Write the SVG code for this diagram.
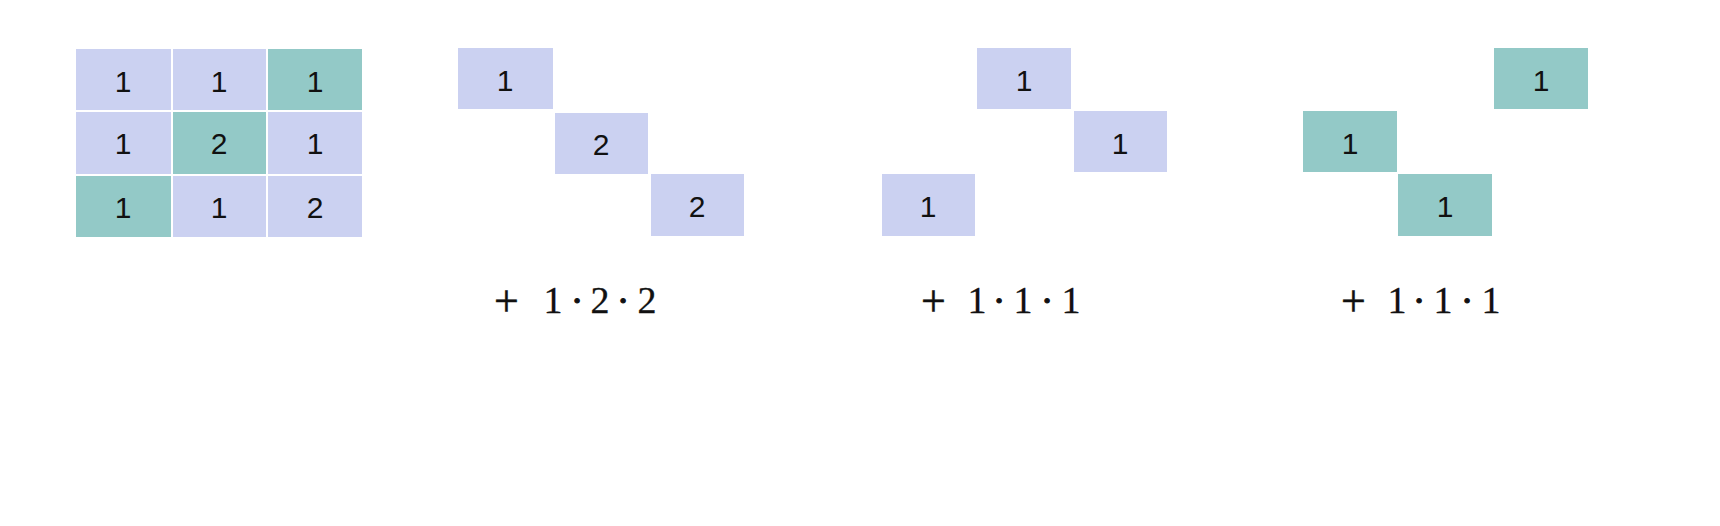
<svg xmlns="http://www.w3.org/2000/svg" width="1720" height="526" viewBox="0 0 1720 526">
<style>
.lav{fill:#CBD1F1}
.teal{fill:#93C9C7}
.n{font-family:"Liberation Sans",Arial,sans-serif;font-size:30px;fill:#111;text-anchor:middle}
.m{font-family:"Liberation Serif","Times New Roman",serif;font-size:38px;fill:#111;stroke:#111;stroke-width:0.3;text-anchor:middle}
.p{font-size:44px;stroke-width:0.5}
.d{stroke-width:1.2}
</style>
<rect width="1720" height="526" fill="#fff"/>
<g id="matrix">
<g id="m11"><rect class="lav" x="76" y="49" width="95" height="61"/><text class="n" x="123" y="92">1</text></g>
<g id="m12"><rect class="lav" x="173" y="49" width="93" height="61"/><text class="n" x="219" y="92">1</text></g>
<g id="m13"><rect class="teal" x="268" y="49" width="94" height="61"/><text class="n" x="315" y="92">1</text></g>
<g id="m21"><rect class="lav" x="76" y="112" width="95" height="62"/><text class="n" x="123" y="154">1</text></g>
<g id="m22"><rect class="teal" x="173" y="112" width="93" height="62"/><text class="n" x="219" y="154">2</text></g>
<g id="m23"><rect class="lav" x="268" y="112" width="94" height="62"/><text class="n" x="315" y="154">1</text></g>
<g id="m31"><rect class="teal" x="76" y="176" width="95" height="61"/><text class="n" x="123" y="218">1</text></g>
<g id="m32"><rect class="lav" x="173" y="176" width="93" height="61"/><text class="n" x="219" y="218">1</text></g>
<g id="m33"><rect class="lav" x="268" y="176" width="94" height="61"/><text class="n" x="315" y="218">2</text></g>
</g>
<g id="term1">
<g id="t1a"><rect class="lav" x="458" y="48" width="95" height="61"/><text class="n" x="505" y="91">1</text></g>
<g id="t1b"><rect class="lav" x="555" y="113" width="93" height="61"/><text class="n" x="601" y="155">2</text></g>
<g id="t1c"><rect class="lav" x="651" y="174" width="93" height="62"/><text class="n" x="697" y="217">2</text></g>
<g id="t1eq">
<text class="m p" x="506.5" y="316">+</text>
<text class="m" x="553" y="313">1</text>
<text class="m d" x="577" y="313">·</text>
<text class="m" x="600" y="313">2</text>
<text class="m d" x="623" y="313">·</text>
<text class="m" x="647" y="313">2</text>
</g>
</g>
<g id="term2">
<g id="t2a"><rect class="lav" x="977" y="48" width="94" height="61"/><text class="n" x="1024" y="91">1</text></g>
<g id="t2b"><rect class="lav" x="1074" y="111" width="93" height="61"/><text class="n" x="1120" y="154">1</text></g>
<g id="t2c"><rect class="lav" x="882" y="174" width="93" height="62"/><text class="n" x="928" y="217">1</text></g>
<g id="t2eq">
<text class="m p" x="933.5" y="316">+</text>
<text class="m" x="977" y="313">1</text>
<text class="m d" x="999" y="313">·</text>
<text class="m" x="1023" y="313">1</text>
<text class="m d" x="1047" y="313">·</text>
<text class="m" x="1071" y="313">1</text>
</g>
</g>
<g id="term3">
<g id="t3a"><rect class="teal" x="1494" y="48" width="94" height="61"/><text class="n" x="1541" y="91">1</text></g>
<g id="t3b"><rect class="teal" x="1303" y="111" width="94" height="61"/><text class="n" x="1350" y="154">1</text></g>
<g id="t3c"><rect class="teal" x="1398" y="174" width="94" height="62"/><text class="n" x="1445" y="217">1</text></g>
<g id="t3eq">
<text class="m p" x="1353.5" y="316">+</text>
<text class="m" x="1397" y="313">1</text>
<text class="m d" x="1419" y="313">·</text>
<text class="m" x="1443" y="313">1</text>
<text class="m d" x="1467" y="313">·</text>
<text class="m" x="1491" y="313">1</text>
</g>
</g>
<g id="connectors"/>
</svg>
